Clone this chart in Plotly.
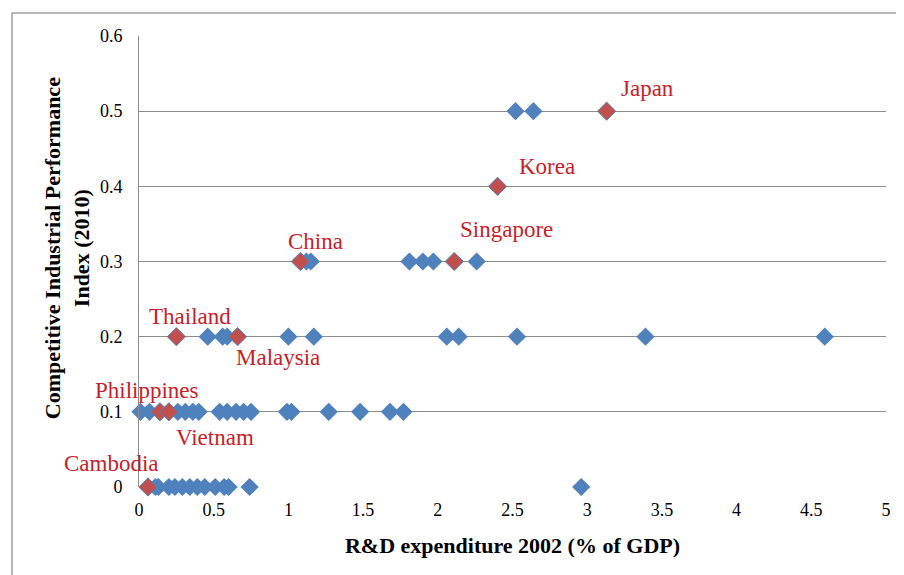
import plotly.graph_objects as go

# R&D expenditure 2002 (% of GDP) vs Competitive Industrial Performance Index (2010)
other_rd = [0.11, 0.13, 0.20, 0.24, 0.29, 0.34, 0.39, 0.44, 0.51, 0.57, 0.60, 0.74, 2.96,
            0.01, 0.07, 0.26, 0.31, 0.36, 0.40, 0.54, 0.59, 0.65, 0.70, 0.75, 0.99, 1.02,
            1.27, 1.48, 1.68, 1.77,
            0.46, 0.56, 0.59, 1.00, 1.17, 2.06, 2.14, 2.53, 3.39, 4.59,
            1.12, 1.15, 1.81, 1.90, 1.97, 2.26,
            2.52, 2.64]
other_cip = [0.0] * 13 + [0.1] * 17 + [0.2] * 10 + [0.3] * 6 + [0.5] * 2

asia_names = ["Japan", "Korea", "Singapore", "China", "Thailand", "Malaysia",
              "Philippines", "Vietnam", "Cambodia"]
asia_rd = [3.13, 2.40, 2.11, 1.08, 0.25, 0.66, 0.14, 0.20, 0.06]
asia_cip = [0.5, 0.4, 0.3, 0.3, 0.2, 0.2, 0.1, 0.1, 0.0]

# label offsets in pixels from each marker
label_dx = [41, 49, 52, 15, 14, 40, -13, 46, -36]
label_dy = [23, 20, 32, 20, 20, -21, 21, -26, 24]

BLUE = "#4F81BD"
RED = "#C0504D"
LABEL_RED = "#C8202A"
GRID = "#8C8C8C"
SERIF = "Liberation Serif, Times New Roman, serif"

fig = go.Figure()
fig.add_trace(go.Scatter(
    x=other_rd, y=other_cip, mode="markers",
    marker=dict(symbol="diamond", size=14, color=BLUE),
    cliponaxis=False, hoverinfo="x+y", showlegend=False,
))
fig.add_trace(go.Scatter(
    x=asia_rd, y=asia_cip, mode="markers", text=asia_names,
    marker=dict(symbol="diamond", size=14, color=RED, line=dict(color=BLUE, width=1)),
    cliponaxis=False, hoverinfo="text+x+y", showlegend=False,
))

for name, xv, yv, dx, dy in zip(asia_names, asia_rd, asia_cip, label_dx, label_dy):
    fig.add_annotation(x=xv, y=yv, text=name, showarrow=False,
                       xshift=dx, yshift=dy,
                       font=dict(family=SERIF, size=23, color=LABEL_RED))

# y-axis title (two lines)
fig.add_annotation(xref="paper", yref="paper", x=-0.096, y=0.53,
                   xanchor="center", yanchor="middle",
                   text="<b>Competitive Industrial Performance<br>Index (2010)</b>",
                   showarrow=False, textangle=-90,
                   font=dict(family=SERIF, size=22, color="#000000"))

# outer frame of the original figure
fig.add_shape(type="rect", xref="paper", yref="paper",
              x0=-0.170, x1=1.12, y0=-0.3, y1=1.051,
              line=dict(color="#A0A0A0", width=1.5))

fig.update_layout(
    width=904, height=575,
    margin=dict(l=131, r=26, t=28, b=96),
    paper_bgcolor="white", plot_bgcolor="white",
    font=dict(family=SERIF, size=18, color="#000000"),
    xaxis=dict(
        range=[0, 5], dtick=0.5, automargin=False,
        showgrid=False, zeroline=False, showline=False,
        ticks="", ticklabelstandoff=10,
        title=dict(text="<b>R&D expenditure 2002 (% of GDP)</b>",
                   font=dict(family=SERIF, size=22), standoff=18),
    ),
    yaxis=dict(
        range=[0, 0.6], dtick=0.1, automargin=False,
        showgrid=True, gridcolor=GRID, gridwidth=1,
        zeroline=False, showline=True, linecolor=GRID, linewidth=1,
        ticks="", ticklabelstandoff=12,
    ),
)

fig.write_html("out.html")
